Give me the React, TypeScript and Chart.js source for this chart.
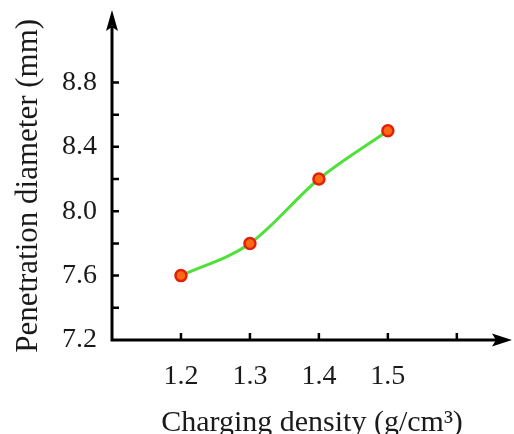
import React, { useEffect, useRef } from "react";
import { Chart, registerables } from "chart.js";

Chart.register(...registerables);

const densities = [1.2, 1.3, 1.4, 1.5];
const diameters = [7.6, 7.8, 8.2, 8.5];
const xTickValues = [1.2, 1.3, 1.4, 1.5, 1.6];
const xTickLabels = ["1.2", "1.3", "1.4", "1.5", ""];
const yTickValues = [7.2, 7.4, 7.6, 7.8, 8.0, 8.2, 8.4, 8.6, 8.8];
const yTickLabels = ["7.2", "", "7.6", "", "8.0", "", "8.4", "", "8.8"];
const xTitle = "Charging density (g/cm³)";
const yTitle = "Penetration diameter (mm)";

const FONT = "'Liberation Serif', 'Times New Roman', serif";
const TEXT = "#1a1a1a";

const axisPlugin = {
  id: "axisArrows",
  afterDraw(chart: any) {
    const ctx = chart.ctx;
    const xs = chart.scales.x;
    const ys = chart.scales.y;
    const { left, right, top, bottom } = chart.chartArea;
    ctx.save();
    ctx.strokeStyle = "#000";
    ctx.fillStyle = "#000";
    ctx.lineWidth = 3;
    ctx.beginPath();
    ctx.moveTo(left, bottom + 1.5);
    ctx.lineTo(left, top + 12);
    ctx.moveTo(left - 1.5, bottom);
    ctx.lineTo(right - 12, bottom);
    ctx.stroke();
    ctx.beginPath();
    ctx.moveTo(left, top);
    ctx.lineTo(left + 6, top + 21);
    ctx.lineTo(left, top + 17);
    ctx.lineTo(left - 6, top + 21);
    ctx.closePath();
    ctx.fill();
    ctx.beginPath();
    ctx.moveTo(right, bottom);
    ctx.lineTo(right - 20, bottom - 6.5);
    ctx.lineTo(right - 16, bottom);
    ctx.lineTo(right - 20, bottom + 6.5);
    ctx.closePath();
    ctx.fill();
    ctx.lineWidth = 2.5;
    ctx.beginPath();
    yTickValues.forEach((v) => {
      const py = ys.getPixelForValue(v);
      if (Math.abs(v - 7.2) < 1e-6) return;
      ctx.moveTo(left, py);
      ctx.lineTo(left + 7, py);
    });
    xTickValues.forEach((v) => {
      const px = xs.getPixelForValue(v);
      ctx.moveTo(px, bottom);
      ctx.lineTo(px, bottom - 7);
    });
    ctx.stroke();
    ctx.restore();
  },
};

export default function App() {
  const ref = useRef<HTMLCanvasElement | null>(null);
  useEffect(() => {
    if (!ref.current) return;
    const chart = new Chart(ref.current, {
      type: "line",
      data: {
        datasets: [
          {
            data: densities.map((d, i) => ({ x: d, y: diameters[i] })),
            borderColor: "#4fe03a",
            borderWidth: 3,
            cubicInterpolationMode: "monotone",
            pointRadius: 5.5,
            pointBorderWidth: 2.5,
            pointBackgroundColor: "#ff6a10",
            pointBorderColor: "#e0200a",
          },
        ],
      },
      options: {
        animation: false,
        responsive: false,
        events: [],
        layout: { autoPadding: false, padding: { top: 10, right: 2, left: 0, bottom: 0 } },
        plugins: { legend: { display: false }, tooltip: { enabled: false } },
        scales: {
          x: {
            type: "linear",
            min: 1.1,
            max: 1.68,
            afterFit: (s: any) => {
              s.height = 94;
              s.paddingLeft = 0;
              s.paddingRight = 0;
            },
            afterBuildTicks: (s: any) => {
              s.ticks = xTickValues.map((v) => ({ value: v }));
            },
            grid: { display: false, drawTicks: false },
            border: { display: false },
            ticks: {
              padding: 20,
              color: TEXT,
              font: { family: FONT, size: 28 },
              autoSkip: false,
              maxRotation: 0,
              callback: (v: any) => {
                const i = xTickValues.findIndex((t) => Math.abs(t - v) < 1e-6);
                return i >= 0 ? xTickLabels[i] : "";
              },
            },
            title: {
              display: true,
              text: xTitle,
              color: TEXT,
              font: { family: FONT, size: 30 },
              padding: { top: 0, bottom: -7 },
            },
          },
          y: {
            type: "linear",
            min: 7.2,
            max: 9.25,
            afterFit: (s: any) => {
              s.width = 112;
              s.paddingTop = 0;
              s.paddingBottom = 0;
            },
            afterBuildTicks: (s: any) => {
              s.ticks = yTickValues.map((v) => ({ value: v }));
            },
            grid: { display: false, drawTicks: false },
            border: { display: false },
            ticks: {
              padding: 15,
              color: TEXT,
              font: { family: FONT, size: 28 },
              autoSkip: false,
              callback: (v: any) => {
                const i = yTickValues.findIndex((t) => Math.abs(t - v) < 1e-6);
                return i >= 0 ? yTickLabels[i] : "";
              },
            },
            title: {
              display: true,
              text: yTitle + "\u2002\u2009",
              color: TEXT,
              font: { family: FONT, size: 31 },
              padding: { top: 10, bottom: 0 },
            },
          },
        },
      },
      plugins: [axisPlugin],
    } as any);
    return () => chart.destroy();
  }, []);
  return (
    <div style={{ position: "absolute", left: 0, top: 0, width: 514, height: 434, background: "#fff" }}>
      <canvas ref={ref} width={514} height={434} style={{ display: "block" }} />
    </div>
  );
}
